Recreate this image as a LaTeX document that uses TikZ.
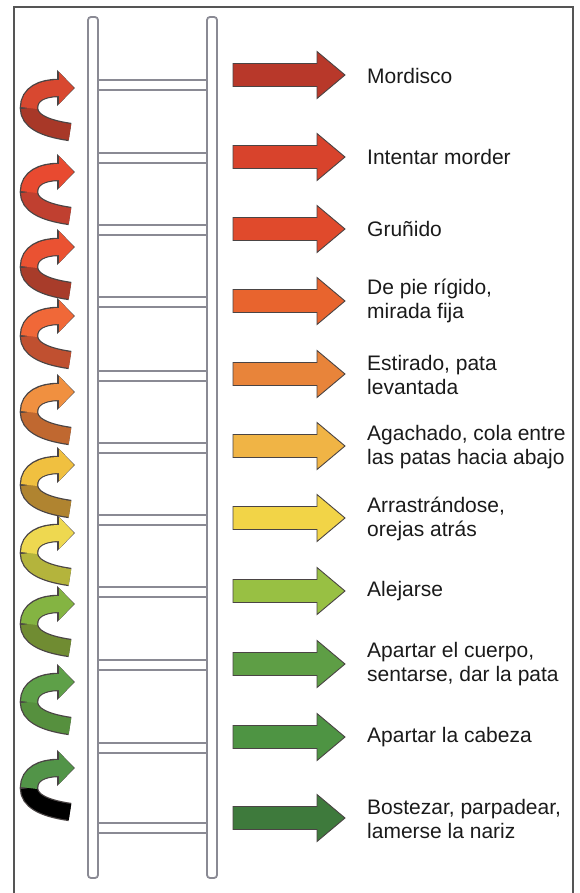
\documentclass[tikz,border=0pt]{standalone}
\usepackage{fontspec}
\setmainfont{Liberation Sans}
\usetikzlibrary{arrows.meta}
\definecolor{railc}{HTML}{8A8A94}
\definecolor{framec}{HTML}{555555}
\definecolor{edgec}{HTML}{4A4444}
\definecolor{txtc}{HTML}{1A1A1A}
\definecolor{s1h}{HTML}{D84830}\definecolor{s1t}{HTML}{A83828}
\definecolor{s2h}{HTML}{E84A30}\definecolor{s2t}{HTML}{C04030}
\definecolor{s3h}{HTML}{EA5232}\definecolor{s3t}{HTML}{A83C2A}
\definecolor{s4h}{HTML}{F06838}\definecolor{s4t}{HTML}{C05030}
\definecolor{s5h}{HTML}{F09040}\definecolor{s5t}{HTML}{C06830}
\definecolor{s6h}{HTML}{F0C040}\definecolor{s6t}{HTML}{B08430}
\definecolor{s7h}{HTML}{EED850}\definecolor{s7t}{HTML}{B4B43C}
\definecolor{s8h}{HTML}{84B442}\definecolor{s8t}{HTML}{708C32}
\definecolor{s9h}{HTML}{5EA048}\definecolor{s9t}{HTML}{56903E}
\definecolor{s10h}{HTML}{529448}\definecolor{s10t}{HTML}{000000}
\definecolor{b1}{HTML}{B8382A}
\definecolor{b2}{HTML}{D8432C}
\definecolor{b3}{HTML}{E04A2C}
\definecolor{b4}{HTML}{E8642E}
\definecolor{b5}{HTML}{E8843A}
\definecolor{b6}{HTML}{F0B445}
\definecolor{b7}{HTML}{F2D447}
\definecolor{b8}{HTML}{98C043}
\definecolor{b9}{HTML}{5E9E45}
\definecolor{b10}{HTML}{4E9443}
\definecolor{b11}{HTML}{3E7A3C}
\tikzset{
  rail/.style={draw=railc, line width=1.8pt, fill=white, rounded corners=3pt},
  rung/.style={draw=railc, line width=1.8pt},
  barrow/.style={draw=edgec, line width=0.9pt, line join=miter},
  lbl/.style={anchor=west, inner sep=0pt, align=left, text=txtc,
    font=\fontsize{21}{23.5}\selectfont},
  spout/.style={draw=edgec, line width=18.5pt, -{Triangle[length=18pt,width=35pt]}},
  splow/.style={line width=16pt},
  spup/.style={line width=16pt, -{Triangle[length=15pt,width=31pt]}},
}
% block arrow: #1 centre y, #2 colour
\newcommand\blockarrow[2]{%
  \filldraw[barrow, fill=#2] (233,#1-11.5) -- (317,#1-11.5) -- (317,#1-23.5)
    -- (345,#1) -- (317,#1+23.5) -- (317,#1+11.5) -- (233,#1+11.5) -- cycle;}
% spiral arrow: #1 head y, #2 head colour, #3 tail colour
\newcommand\spiralarrow[3]{%
  \draw[spout] (70,#1+46) .. controls (42,#1+42) and (29,#1+34) .. (29,#1+22)
     .. controls (29,#1+8) and (42,#1+2) .. (75,#1+2);
  \draw[splow, draw=#3] (70,#1+46) .. controls (42,#1+42) and (29,#1+34) .. (29,#1+22);
  \draw[spup, draw=#2] (29,#1+22) .. controls (29,#1+8) and (42,#1+2) .. (74,#1+2);}
\begin{document}
\begin{tikzpicture}[x=1pt,y=-1pt]
\useasboundingbox (0,0) rectangle (580,893);
% frame
\draw[framec, line width=1.2pt] (14,896) -- (14,7) -- (573,7) -- (573,896);
% ladder
\filldraw[rail] (88,17) rectangle (98,878);
\filldraw[rail] (207,17) rectangle (217,878);
\foreach \t in {80,153,225,297,371,443,515,587,660,743,823}{
  \draw[rung] (98,\t) -- (207,\t);
  \draw[rung] (98,\t+10) -- (207,\t+10);
}
% spiral arrows
\spiralarrow{86}{s1h}{s1t}
\spiralarrow{170}{s2h}{s2t}
\spiralarrow{245}{s3h}{s3t}
\spiralarrow{314}{s4h}{s4t}
\spiralarrow{390}{s5h}{s5t}
\spiralarrow{463}{s6h}{s6t}
\spiralarrow{531}{s7h}{s7t}
\spiralarrow{602}{s8h}{s8t}
\spiralarrow{680}{s9h}{s9t}
\spiralarrow{766}{s10h}{s10t}
% block arrows
\blockarrow{75}{b1}
\blockarrow{157}{b2}
\blockarrow{229}{b3}
\blockarrow{301}{b4}
\blockarrow{374}{b5}
\blockarrow{446}{b6}
\blockarrow{518}{b7}
\blockarrow{591}{b8}
\blockarrow{664}{b9}
\blockarrow{737}{b10}
\blockarrow{818}{b11}
% labels
\node[lbl] (t1) at (367,76) {Mordisco};
\node[lbl] (t2) at (367,157) {Intentar morder};
\node[lbl] (t3) at (367,229) {Gruñido};
\node[lbl] (t4) at (367,301) {De pie rígido,\\mirada fija};
\node[lbl] (t5) at (367,375) {Estirado, pata\\levantada};
\node[lbl] (t6) at (367,447) {Agachado, cola entre\\las patas hacia abajo};
\node[lbl] (t7) at (367,519) {Arrastrándose,\\orejas atrás};
\node[lbl] (t8) at (367,591) {Alejarse};
\node[lbl] (t9) at (367,664) {Apartar el cuerpo,\\sentarse, dar la pata};
\node[lbl] (t10) at (367,737) {Apartar la cabeza};
\node[lbl] (t11) at (367,819) {Bostezar, parpadear,\\lamerse la nariz};
\end{tikzpicture}
\end{document}
